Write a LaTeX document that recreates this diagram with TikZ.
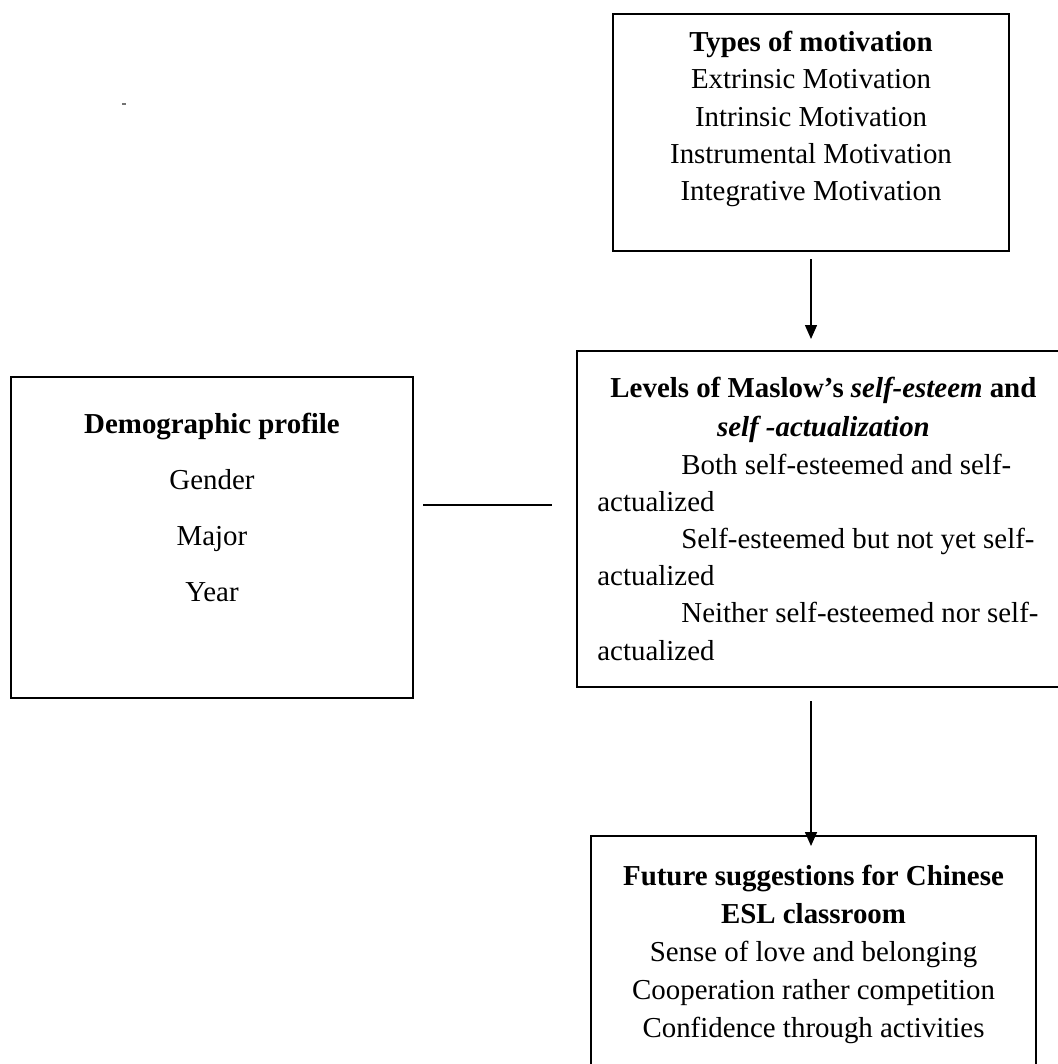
\documentclass[tikz,border=0pt]{standalone}
\usepackage{fontspec}
\setmainfont{Liberation Serif}
\usepackage{tikz}
\usetikzlibrary{positioning,arrows.meta,fit}

\begin{document}
\begin{tikzpicture}[x=.5pt,y=-.5pt,
    box/.style={draw,line width=1pt,inner sep=0pt},
    boxtext/.style={inner sep=0pt,align=center,font=\fontsize{14.45pt}{18.6pt}\selectfont},
    arr/.style={-{Triangle[width=6pt,length=7pt]},line width=.75pt}]
    \useasboundingbox (0,0) rectangle (1058,1064);
    \clip (0,0) rectangle (1058,1064);
    \fill[black!55] (122,103) rectangle (126,105);
    \node[box,fit={(613,14) (1009,251)}] (types) {};
    \node[boxtext,below=9pt of types.north] (typestxt) {\textbf{Types of motivation}\\Extrinsic Motivation\\Intrinsic Motivation\\Instrumental Motivation\\Integrative Motivation};
    \node[box,fit={(11,377) (413,698)}] (demo) {};
    \node[boxtext,font=\fontsize{14.45pt}{28pt}\selectfont,below=18.5pt of demo.north] (demotxt) {\textbf{Demographic profile}\\Gender\\Major\\Year};
    \node[box,fit={(577,351) (1072,687)}] (levels) {};
    \node[boxtext,align=flush left,text width=226pt,below right=13.5pt and 10.5pt of levels.north west] (levelstxt) {{\centering\bfseries Levels of Maslow’s \textit{self-esteem} and\\[1pt]\textit{self -actualization}\par}
      \hspace*{42pt}Both self-esteemed and self-\\actualized\\
      \hspace*{42pt}Self-esteemed but not yet self-\\actualized\\
      \hspace*{42pt}Neither self-esteemed nor self-\\actualized};
    \node[box,fit={(591,836) (1036,1110)}] (future) {};
    \node[boxtext,font=\fontsize{14.45pt}{19pt}\selectfont,below=15pt of future.north] (futuretxt) {\textbf{Future suggestions for Chinese}\\\textbf{ESL classroom}\\Sense of love and belonging\\Cooperation rather competition\\Confidence through activities};
    \coordinate (linkl) at (423,505);
    \coordinate (linkr) at (552,505);
    \draw[line width=.75pt] (linkl) -- (linkr);
    \draw[arr,shorten <=3.5pt,shorten >=5.5pt] (types.south) -- (types.south |- levels.north);
    \draw[arr,shorten <=6.5pt,shorten >=-5.5pt] (types.south |- levels.south) -- (types.south |- future.north);
\end{tikzpicture}
\end{document}
